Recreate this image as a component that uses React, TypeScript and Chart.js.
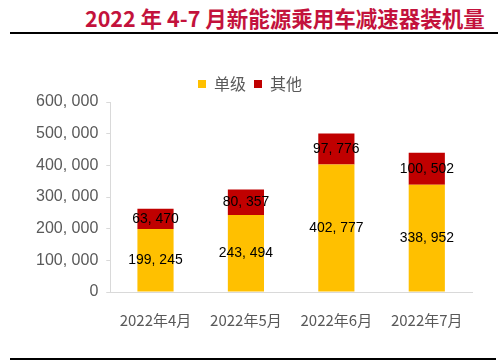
import React, { useEffect, useRef } from "react";
import { Chart, registerables } from "chart.js";

Chart.register(...registerables);

const categories = ["2022年4月", "2022年5月", "2022年6月", "2022年7月"];
const seriesNames = ["单级", "其他"];
const singleStage = [199245, 243494, 402777, 338952];
const others = [63470, 80357, 97776, 100502];
const yMin = 0;
const yMax = 600000;
const yStep = 100000;
const titleText = "2022 年 4-7 月新能源乘用车减速器装机量";

const YELLOW = "#FFC000";
const RED = "#C00000";
const GRAY = "#595959";

const fmt = (v: number) =>
  Math.round(v)
    .toString()
    .replace(/\B(?=(\d{3})+(?!\d))/g, ", ");

const dataLabelPlugin = {
  id: "dataLabels",
  afterDatasetsDraw(chart: any) {
    const ctx = chart.ctx;
    ctx.save();
    ctx.font = '15px "Liberation Sans", Arial, sans-serif';
    ctx.fillStyle = "#000";
    ctx.textAlign = "center";
    ctx.textBaseline = "middle";
    chart.data.datasets.forEach((ds: any, di: number) => {
      const meta = chart.getDatasetMeta(di);
      meta.data.forEach((el: any, i: number) => {
        const p = el.getProps(["x", "y", "base"], true);
        const cy = (p.y + p.base) / 2;
        ctx.save();
        ctx.translate(p.x, cy);
        ctx.scale(0.93, 1);
        ctx.fillText(fmt(ds.data[i]), 0, 0);
        ctx.restore();
      });
    });
    ctx.restore();
  },
};

export default function App() {
  const ref = useRef<HTMLCanvasElement | null>(null);

  useEffect(() => {
    if (!ref.current) return;
    const chart = new Chart(ref.current, {
      type: "bar",
      data: {
        labels: categories,
        datasets: [
          {
            label: seriesNames[0],
            data: singleStage,
            backgroundColor: YELLOW,
            barPercentage: 0.4,
            categoryPercentage: 1,
          },
          {
            label: seriesNames[1],
            data: others,
            backgroundColor: RED,
            barPercentage: 0.4,
            categoryPercentage: 1,
          },
        ],
      },
      options: {
        animation: false,
        responsive: false,
        maintainAspectRatio: false,
        layout: { padding: { top: 68, left: 28, right: 27, bottom: 24 } },
        plugins: {
          legend: {
            display: true,
            position: "top",
            labels: {
              boxWidth: 8,
              boxHeight: 8,
              color: GRAY,
              padding: 8,
              font: { size: 16, family: '"Noto Sans CJK SC", sans-serif' },
            },
          },
          tooltip: { enabled: false },
          title: { display: false },
        },
        scales: {
          x: {
            stacked: true,
            grid: { display: false },
            border: { display: true, color: "#d9d9d9" },
            ticks: {
              color: GRAY,
              padding: 11,
              font: { size: 15, family: '"Noto Sans CJK SC", sans-serif' },
            },
          },
          y: {
            stacked: true,
            min: yMin,
            max: yMax,
            grid: {
              drawOnChartArea: false,
              drawTicks: true,
              tickLength: 4,
              color: "#d9d9d9",
            },
            border: { display: true, color: "#d9d9d9" },
            ticks: {
              stepSize: yStep,
              color: GRAY,
              padding: 8,
              font: { size: 16, family: '"Liberation Sans", Arial, sans-serif' },
              callback: (v: any) => fmt(Number(v)),
            },
          },
        },
      },
      plugins: [dataLabelPlugin],
    });
    return () => chart.destroy();
  }, []);

  return (
    <div
      style={{
        position: "absolute",
        left: 0,
        top: 0,
        width: 499,
        height: 364,
        background: "#fff",
        overflow: "hidden",
      }}
    >
      <div
        style={{
          position: "absolute",
          left: 85,
          top: 4,
          fontFamily: '"Noto Sans CJK SC", sans-serif',
          fontWeight: 700,
          fontSize: 21.5,
          lineHeight: "28px",
          color: "#C3123C",
          whiteSpace: "nowrap",
        }}
      >
        {titleText}
      </div>
      <div
        style={{
          position: "absolute",
          left: 10,
          top: 32,
          width: 488,
          height: 2,
          background: "#000",
        }}
      />
      <canvas
        ref={ref}
        width={499}
        height={364}
        style={{ position: "absolute", left: 0, top: 0, width: 499, height: 364 }}
      />
      <div
        style={{
          position: "absolute",
          left: 10,
          top: 358,
          width: 486,
          height: 2,
          background: "#000",
        }}
      />
    </div>
  );
}
